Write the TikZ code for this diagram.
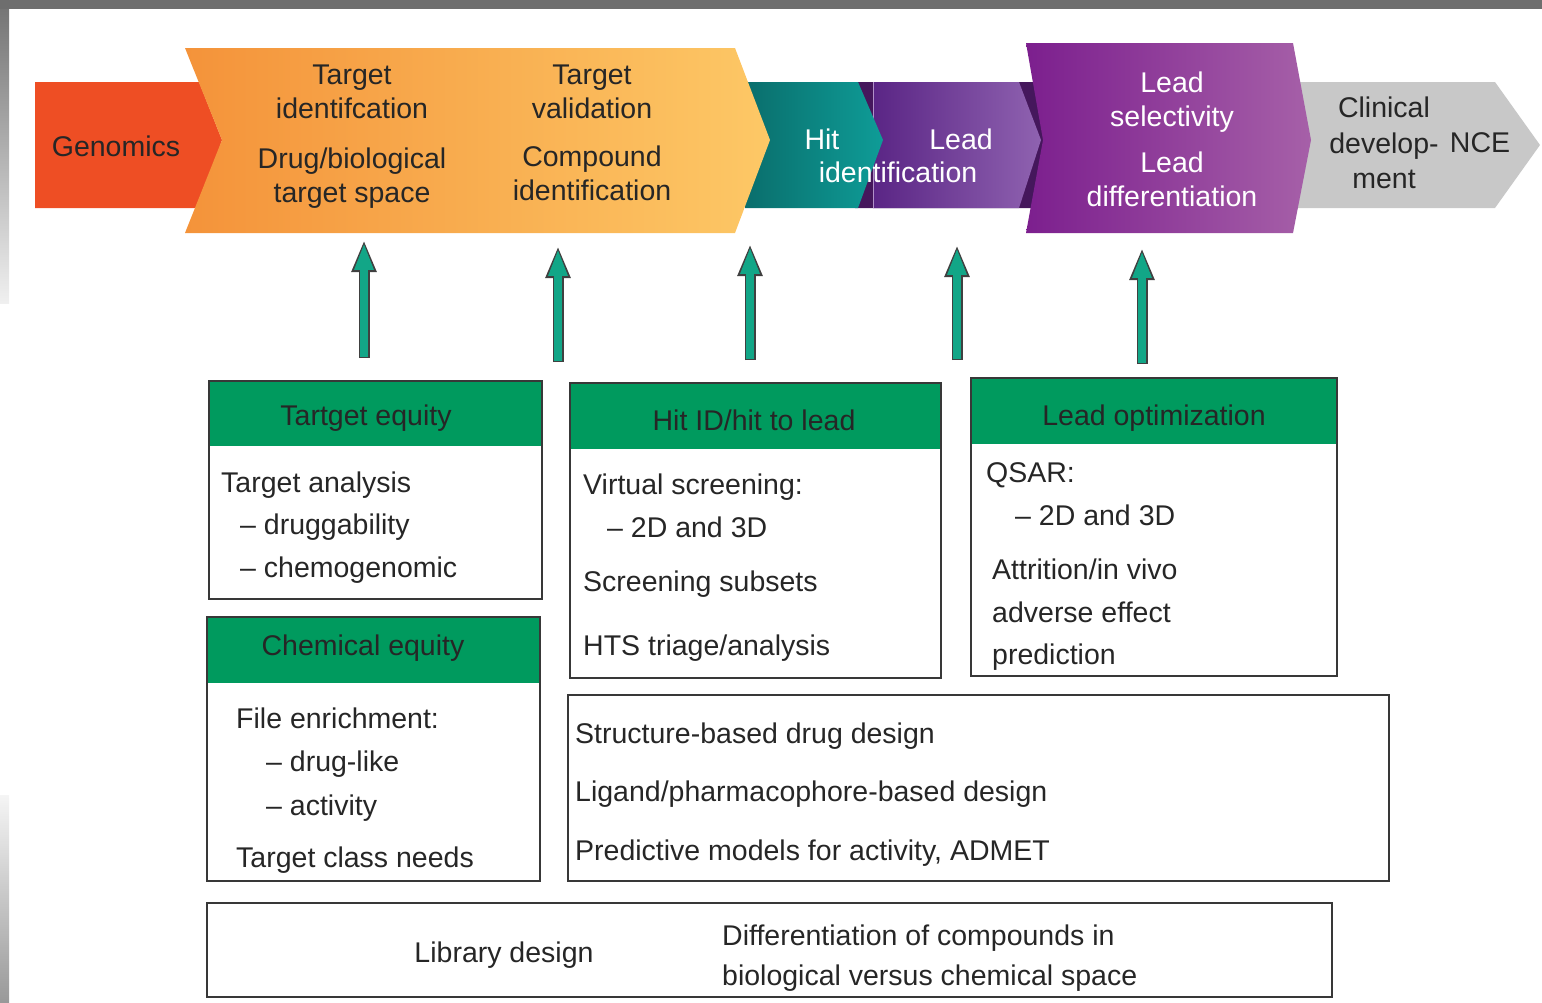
\documentclass[tikz,border=0pt]{standalone}
\usepackage{fontspec}
\setmainfont{Liberation Sans}
\usetikzlibrary{arrows.meta,positioning}

% colours of the pipeline and the boxes
\definecolor{genred}{HTML}{EE4E24}
\definecolor{orangeL}{HTML}{F4933A}
\definecolor{orangeR}{HTML}{FDC866}
\definecolor{tealL}{HTML}{0A6E6C}
\definecolor{tealR}{HTML}{0E9C97}
\definecolor{purpDark}{HTML}{45175C}
\definecolor{purpL}{HTML}{5A2585}
\definecolor{purpR}{HTML}{8F62B0}
\definecolor{magL}{HTML}{7C1F8E}
\definecolor{magR}{HTML}{A660A8}
\definecolor{clingray}{HTML}{C8C8C8}
\definecolor{headgreen}{HTML}{009A5E}
\definecolor{arrowgreen}{HTML}{12A687}
\definecolor{txt}{HTML}{262626}
\definecolor{framegray}{HTML}{6E6E6E}

\tikzset{
  lbl/.style={font=\fontsize{28.5}{34}\selectfont, text=txt, inner sep=0pt, align=center},
  wlbl/.style={lbl, text=white},
  item/.style={lbl, anchor=west, align=left, text height=20pt, text depth=0pt},
  title/.style={lbl, text height=20pt, text depth=0pt},
  box/.style={draw=black!78, line width=1.6pt, anchor=north west, inner sep=0pt},
  header/.style={fill=headgreen, anchor=north west, inner sep=0pt},
  arrowback/.style={line width=11pt, black!75, -{Triangle[length=32pt,width=23pt]}},
  arrowfront/.style={line width=8pt, arrowgreen, shorten <=1.5pt, shorten >=2.8pt,
    -{Triangle[length=27pt,width=17.5pt]}},
}

\begin{document}
\begin{tikzpicture}[x=1pt,y=-1pt]
\useasboundingbox (0,0) rectangle (1542,1002);
% frame
\fill[framegray] (0,0) rectangle (1542,9);
\shade[top color=framegray!95, bottom color=white!94!black] (0,9) rectangle (9,303);
\shade[top color=white!96!black, bottom color=black!40] (0,795) rectangle (9,1002);

% pipeline, drawn back to front
\fill[purpDark] (855,82) -- (1040,82) -- (1060,140) -- (1040,208) -- (855,208) -- cycle;
\shade[left color=purpL, right color=purpR] (873,82) -- (1019,82) -- (1041,140) -- (1019,208) -- (873,208) -- cycle;
\draw[purpR!70, line width=0.6pt] (873,82) -- (873,208);
\shade[left color=tealL, right color=tealR] (745,82) -- (858,82) -- (883,140) -- (858,208) -- (745,208) -- cycle;
\fill[genred] (35,82) -- (199,82) -- (222,140) -- (199,208) -- (35,208) -- cycle;
\shade[left color=orangeL, right color=orangeR] (185,48) -- (735,48) -- (770,140) -- (735,233) -- (185,233) -- (222,140) -- cycle;
\fill[clingray] (1280,82) -- (1495,82) -- (1540,145) -- (1495,208) -- (1280,208) -- cycle;
\shade[left color=magL, right color=magR] (1026,43) -- (1293,43) -- (1311,140) -- (1293,233) -- (1026,233) -- (1043,140) -- cycle;

% pipeline labels
\node[lbl] (genomics) at (116,146) {Genomics};
\node[lbl] (tident) at (352,92) {Target\\identifcation};
\node[lbl] (drugspace) at (352,178) {Drug/biological\\target space};
\node[lbl] (tvalid) at (592,92) {Target\\validation};
\node[lbl] (cmpid) at (592,173) {Compound\\identification};
\node[wlbl] (hit) at (822,139) {Hit};
\node[wlbl] (lead) at (961,139) {Lead};
\node[wlbl] (hitid) at (898,172) {identification};
\node[wlbl] (leadsel) at (1172,102) {Lead\\selectivity};
\node[wlbl] (leaddiff) at (1172,179) {Lead\\differentiation};
\node[lbl, font=\fontsize{28.5}{35.5}\selectfont] (clinical) at (1384,143) {Clinical\\develop-\\ment};
\node[lbl] (nce) at (1480,143) {NCE};

% Tartget equity
\node[header, minimum width=333pt, minimum height=66pt] (teqhead) at (208,380) {};
\node[title] (teqtitle) at (366,415) {Tartget equity};
\node[box, minimum width=333pt, minimum height=218pt] (teq) at (208,380) {};
\node[item] (teq1) at (221,482) {Target analysis};
\node[item] (teq2) at (240,524) {-- druggability};
\node[item] (teq3) at (240,567) {-- chemogenomic};

% Chemical equity
\node[header, minimum width=333pt, minimum height=67pt] (ceqhead) at (206,616) {};
\node[title] (ceqtitle) at (363,645) {Chemical equity};
\node[box, minimum width=333pt, minimum height=264pt] (ceq) at (206,616) {};
\node[item] (ceq1) at (236,718) {File enrichment:};
\node[item] (ceq2) at (266,761) {-- drug-like};
\node[item] (ceq3) at (266,805) {-- activity};
\node[item] (ceq4) at (236,857) {Target class needs};

% Hit ID/hit to lead
\node[header, minimum width=371pt, minimum height=67pt] (hithead) at (569,382) {};
\node[title] (hittitle) at (754,420) {Hit ID/hit to lead};
\node[box, minimum width=371pt, minimum height=295pt] (hitbox) at (569,382) {};
\node[item] (hit1) at (583,484) {Virtual screening:};
\node[item] (hit2) at (607,527) {-- 2D and 3D};
\node[item] (hit3) at (583,581) {Screening subsets};
\node[item] (hit4) at (583,645) {HTS triage/analysis};

% Lead optimization
\node[header, minimum width=366pt, minimum height=67pt] (lophead) at (970,377) {};
\node[title] (loptitle) at (1154,415) {Lead optimization};
\node[box, minimum width=366pt, minimum height=298pt] (lop) at (970,377) {};
\node[item] (lop1) at (986,472) {QSAR:};
\node[item] (lop2) at (1015,515) {-- 2D and 3D};
\node[item] (lop3) at (992,569) {Attrition/in vivo};
\node[item] (lop4) at (992,612) {adverse effect};
\node[item] (lop5) at (992,654) {prediction};

% design methods
\node[box, minimum width=821pt, minimum height=186pt] (design) at (567,694) {};
\node[item] (des1) at (575,733) {Structure-based drug design};
\node[item] (des2) at (575,791) {Ligand/pharmacophore-based design};
\node[item] (des3) at (575,850) {Predictive models for activity, ADMET};

% library design
\node[box, minimum width=1125pt, minimum height=94pt] (lib) at (206,902) {};
\node[title] (libname) at (504,952) {Library design};
\node[item] (lib1) at (722,935) {Differentiation of compounds in};
\node[item] (lib2) at (722,975) {biological versus chemical space};

% arrows up to the pipeline
\coordinate (b1) at (364,358);  \coordinate (t1) at (364,240);
\coordinate (b2) at (558,362);  \coordinate (t2) at (558,246);
\coordinate (b3) at (750,360);  \coordinate (t3) at (750,244);
\coordinate (b4) at (957,360);  \coordinate (t4) at (957,245);
\coordinate (b5) at (1142,364); \coordinate (t5) at (1142,248);
\foreach \i in {1,...,5}{
  \draw[arrowback] (b\i) -- (t\i);
  \draw[arrowfront] (b\i) -- (t\i);
}
\end{tikzpicture}
\end{document}
